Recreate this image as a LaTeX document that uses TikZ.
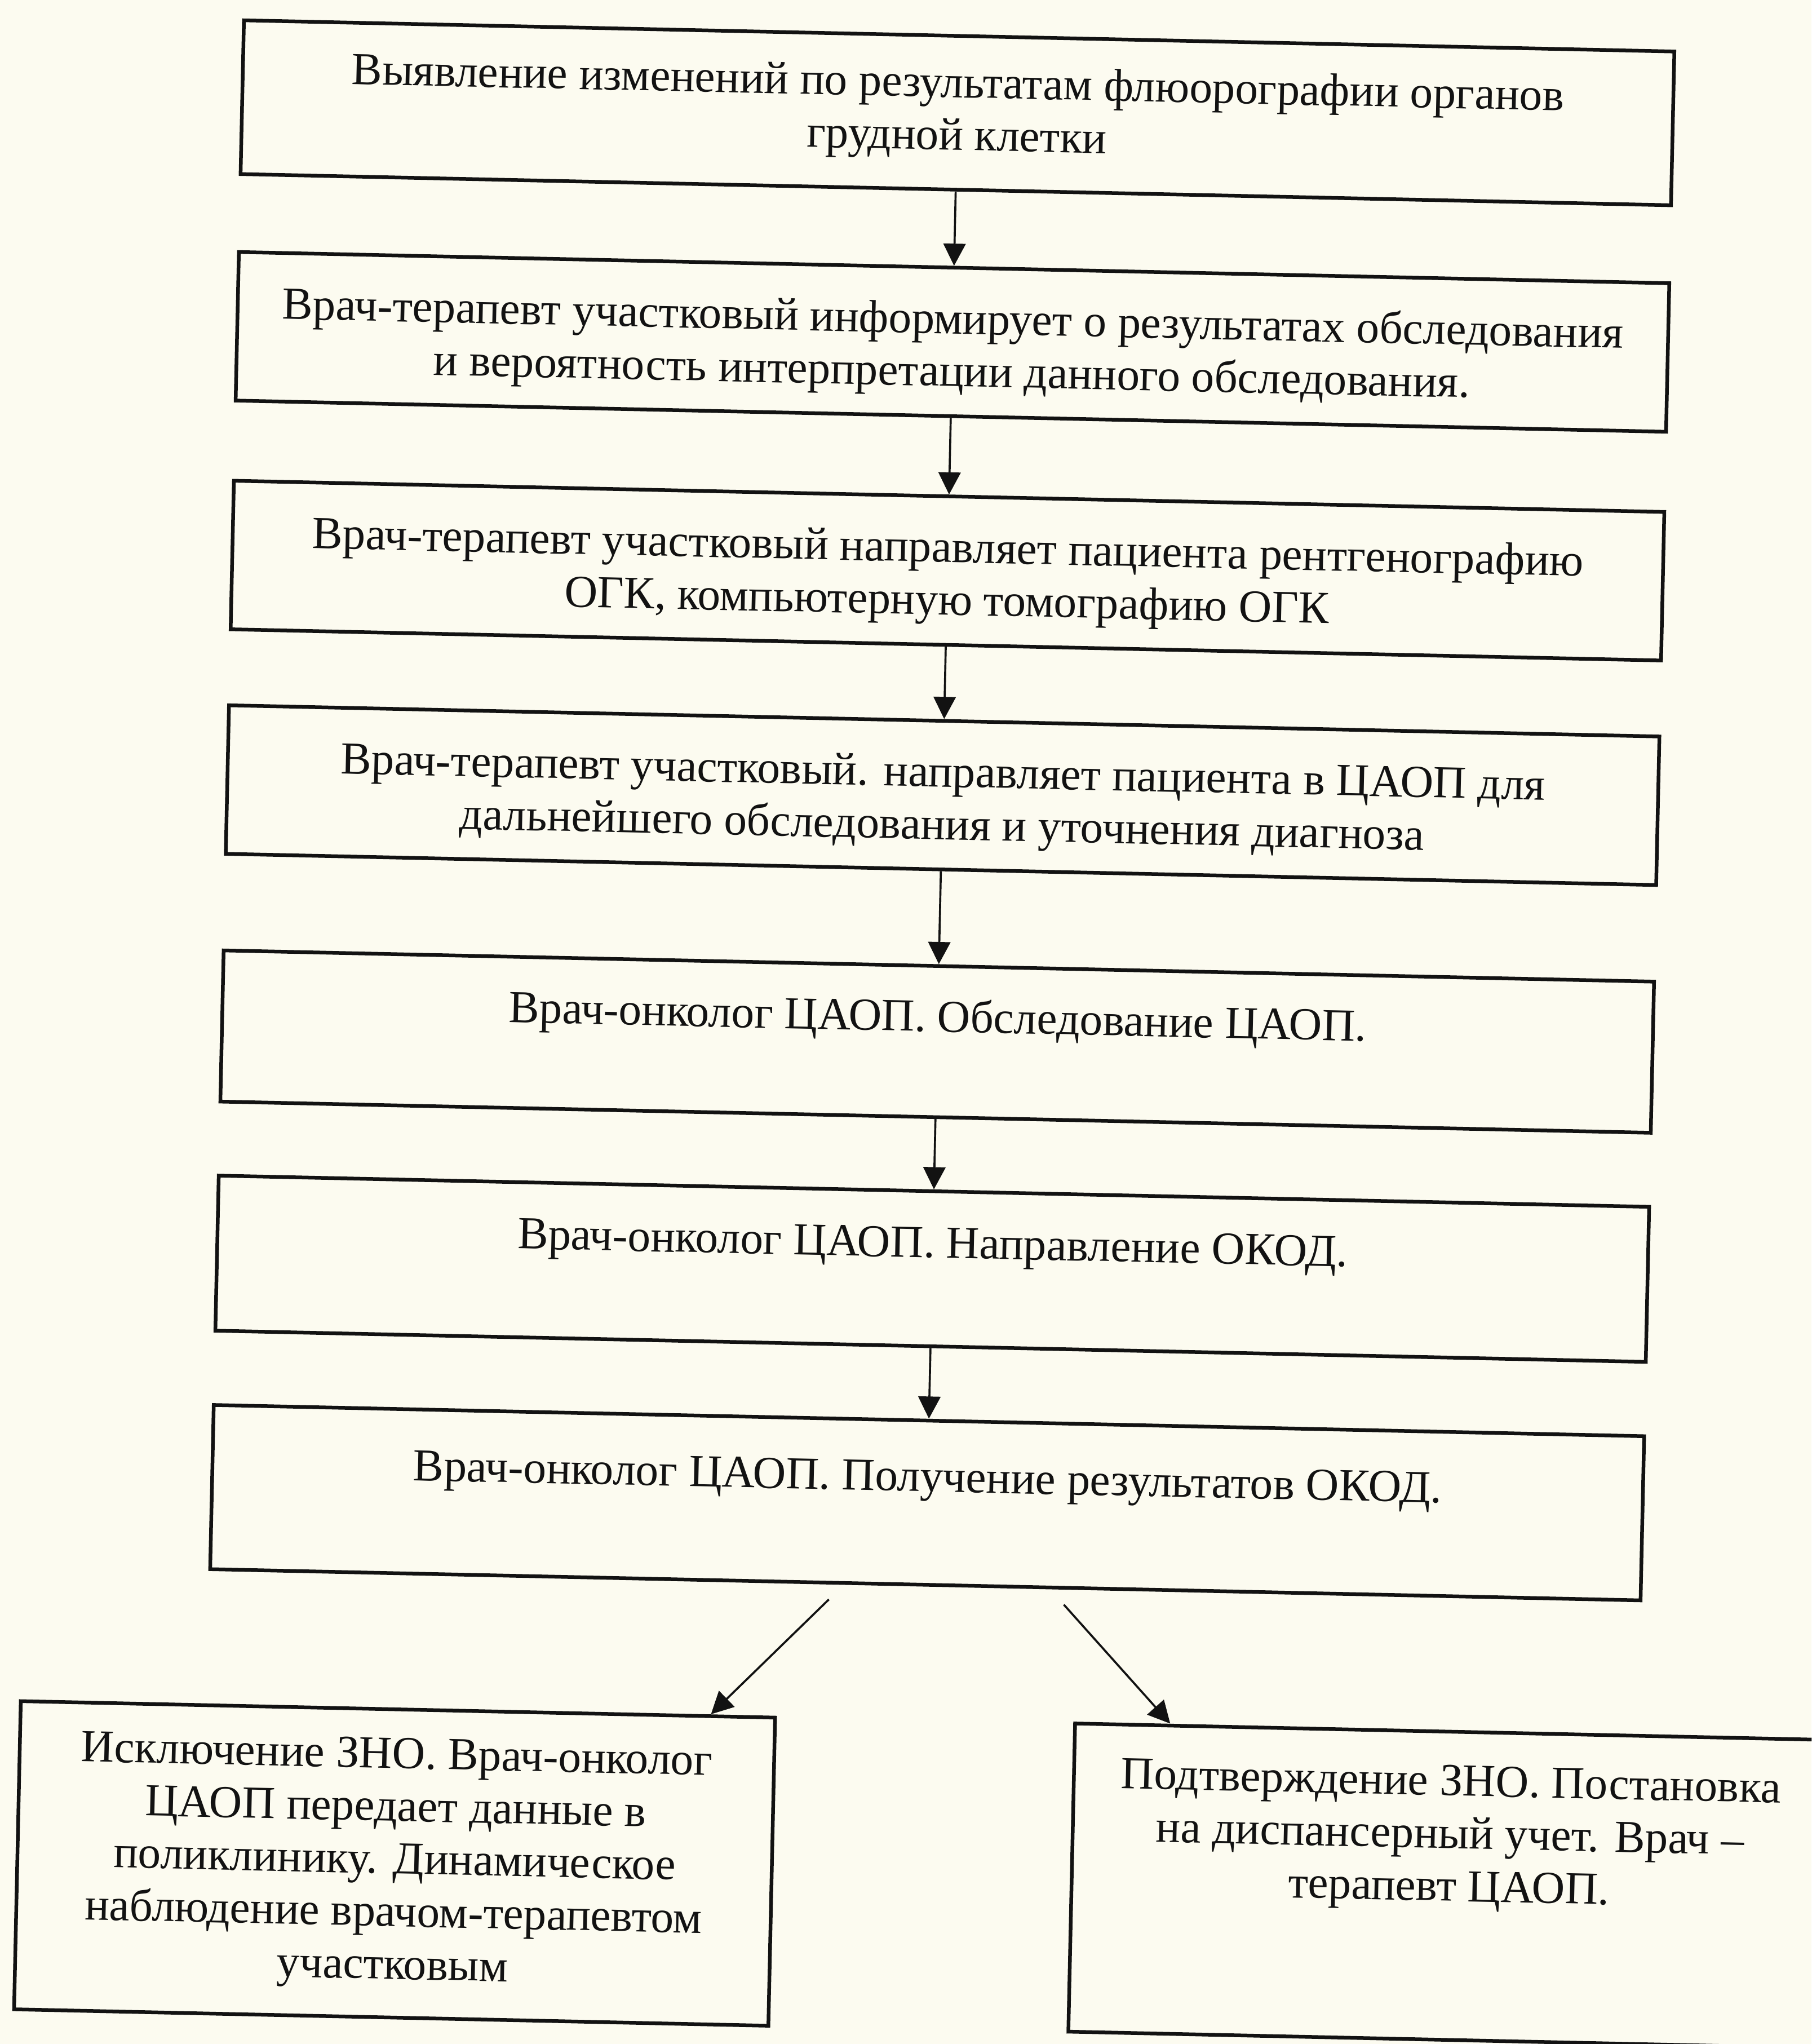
\documentclass[tikz,border=0pt]{standalone}
\usepackage{fontspec}
\setmainfont{Liberation Serif}
\usetikzlibrary{arrows.meta,calc}
\definecolor{paper}{RGB}{252,251,240}
\definecolor{ink}{RGB}{18,18,18}
\begin{document}
\begin{tikzpicture}[x=0.02cm,y=-0.02cm,
  box/.style={draw=ink, line width=1.6pt, align=center, text=ink,
    minimum width=21.96cm, inner sep=0pt,
    font=\fontsize{20pt}{23pt}\selectfont},
  sidebox/.style={box, minimum width=11.58cm, minimum height=4.73cm},
  arr/.style={draw=ink, line width=0.9pt, -{Triangle[length=0.34cm,width=0.34cm]}}]
\path[use as bounding box, fill=paper] (0,0) rectangle (1390,1568);
\clip (0,0) rectangle (1390,1568);
\begin{scope}[rotate around={-1.25:(695,784)}, transform shape]
\node[box, minimum height=2.36cm] (b1) at (719.4,85.8)
  {Выявление изменений по результатам флюорографии органов\\грудной клетки};
\node[box, minimum height=2.28cm] (b2) at (719.4,261.6)
  {\rule{0pt}{20pt}Врач-терапевт участковый информирует о результатах обследования\\и вероятность интерпретации данного обследования.};
\node[box, minimum height=2.28cm] (b3) at (719.4,437.1)
  {\rule{0pt}{20pt}Врач-терапевт участковый направляет пациента рентгенографию\\ОГК, компьютерную томографию ОГК};
\node[box, minimum height=2.28cm] (b4) at (719.4,609.4)
  {\rule{0pt}{20pt}Врач-терапевт участковый. направляет пациента в ЦАОП для\\дальнейшего обследования и уточнения диагноза};
\node[box, minimum height=2.32cm] (b5) at (719.4,798.5)
  {Врач-онколог ЦАОП. Обследование ЦАОП.\\\mbox{}};
\node[box, minimum height=2.38cm] (b6) at (719.4,972.8)
  {Врач-онколог ЦАОП. Направление ОКОД.\\\mbox{}};
\node[box, minimum height=2.52cm] (b7) at (719.4,1152.3)
  {Врач-онколог ЦАОП. Получение результатов ОКОД.\\\mbox{}};
\node[sidebox] (b8) at (316.9,1437.9)
  {Исключение ЗНО. Врач-онколог\\ЦАОП передает данные в\\поликлинику. Динамическое\\наблюдение врачом-терапевтом\\участковым};
\node[sidebox] (b9) at (1126,1437.4)
  {Подтверждение ЗНО. Постановка\\на диспансерный учет. Врач –\\терапевт ЦАОП.\\\mbox{}\\\mbox{}};
\coordinate (s1) at (645.7,1228.2);
\coordinate (s2) at (826,1228.3);
\draw[arr] (b1.south) -- (b2.north);
\draw[arr] (b2.south) -- (b3.north);
\draw[arr] (b3.south) -- (b4.north);
\draw[arr] (b4.south) -- (b5.north);
\draw[arr] (b5.south) -- (b6.north);
\draw[arr] (b6.south) -- (b7.north);
\draw[arr] (s1) -- ($(b8.north west)!0.913!(b8.north east)$);
\draw[arr] (s2) -- ($(b9.north west)!0.128!(b9.north east)$);
\end{scope}
\end{tikzpicture}
\end{document}
